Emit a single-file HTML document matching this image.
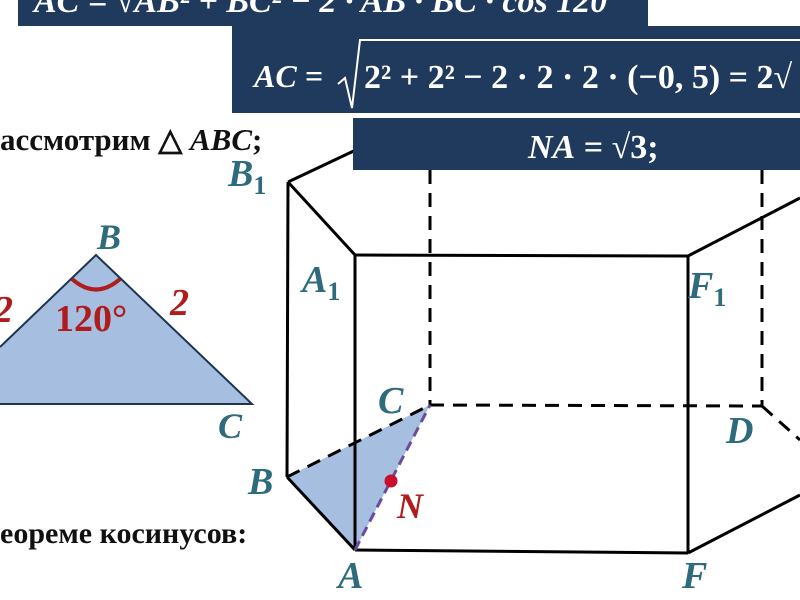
<!DOCTYPE html>
<html><head><meta charset="utf-8"><style>
html,body{margin:0;padding:0;background:#fff;}
svg{display:block}
.lbl{font-family:"Liberation Serif",serif;font-weight:bold;font-style:italic;fill:#2e6b7c}
.red{font-family:"Liberation Serif",serif;font-weight:bold;fill:#b01b1b}
.w{font-family:"Liberation Serif",serif;font-weight:bold;fill:#fff}
.blk{font-family:"Liberation Serif",serif;font-weight:bold;fill:#111}
</style></head><body>
<svg width="800" height="600" viewBox="0 0 800 600" xmlns="http://www.w3.org/2000/svg">
<rect width="800" height="600" fill="#fff"/>
<!-- left triangle -->
<polygon points="96,255 252,404 0,404 0,347" fill="#a6bedf"/>
<polyline points="0,347 96,255 252,404 0,404" fill="none" stroke="#1d3550" stroke-width="2"/>
<path d="M72,279 Q96,300 120,279" fill="none" stroke="#b01b1b" stroke-width="4"/>
<text x="97" y="249" class="lbl" font-size="36">B</text>
<text x="218" y="438" class="lbl" font-size="36">C</text>
<text x="-6" y="322" class="red" font-size="38" font-style="italic">2</text>
<text x="170" y="315" class="red" font-size="38" font-style="italic">2</text>
<text x="55" y="331" class="red" font-size="38">120°</text>
<text x="0" y="150" class="blk" font-size="31">ассмотрим △ <tspan font-style="italic">ABC</tspan>;</text>
<text x="0" y="543" class="blk" font-size="30">еореме косинусов:</text>
<!-- prism -->
<polygon points="287,477 430,405 355,550" fill="#a6bedf"/>
<g stroke="#000" stroke-width="3" fill="none">
<line x1="288" y1="182" x2="287" y2="477"/>
<line x1="355" y1="255" x2="355" y2="550"/>
<line x1="688" y1="256" x2="688" y2="553"/>
<line x1="288" y1="182" x2="355" y2="255"/>
<line x1="355" y1="255" x2="688" y2="256"/>
<line x1="688" y1="256" x2="800" y2="198"/>
<line x1="288" y1="182" x2="360" y2="148"/>
<line x1="287" y1="477" x2="355" y2="550"/>
<line x1="355" y1="550" x2="688" y2="553"/>
<line x1="688" y1="553" x2="800" y2="495"/>
</g>
<g stroke="#000" stroke-width="3" fill="none" stroke-dasharray="14,9">
<line x1="430" y1="170" x2="430" y2="405"/>
<line x1="762" y1="170" x2="762" y2="406"/>
<line x1="430" y1="405" x2="762" y2="406"/>
<line x1="762" y1="406" x2="800" y2="440"/>
<line x1="287" y1="477" x2="430" y2="405"/>
</g>
<line x1="355" y1="550" x2="430" y2="405" stroke="#6a4c9c" stroke-width="3" stroke-dasharray="10,6"/>
<circle cx="391" cy="481" r="6.5" fill="#c8102e"/>
<text x="228" y="186" class="lbl" font-size="38">B<tspan font-size="26" dy="8" font-style="normal">1</tspan></text>
<text x="302" y="292" class="lbl" font-size="38">A<tspan font-size="26" dy="8" font-style="normal">1</tspan></text>
<text x="688" y="298" class="lbl" font-size="38">F<tspan font-size="26" dy="8" font-style="normal">1</tspan></text>
<text x="378" y="413" class="lbl" font-size="38">C</text>
<text x="726" y="443" class="lbl" font-size="38">D</text>
<text x="248" y="494" class="lbl" font-size="38">B</text>
<text x="338" y="588" class="lbl" font-size="38">A</text>
<text x="682" y="588" class="lbl" font-size="38">F</text>
<text x="397" y="518" class="red" font-size="36" font-style="italic">N</text>
<!-- formula boxes -->
<rect x="18" y="0" width="630" height="26" fill="#1f3a5c"/>
<text x="34" y="12" class="w" font-size="34" font-style="italic">AC = √AB² + BC² − 2 · AB · BC · cos 120°</text>
<rect x="232" y="26" width="568" height="87" fill="#1f3a5c"/>
<text x="254" y="87" class="w" font-size="32" font-style="italic">AC =</text>
<polyline points="338,84 345,78 352,108 360,40 800,40" fill="none" stroke="#fff" stroke-width="2"/>
<text x="364" y="88" class="w" font-size="34">2² + 2² − 2 · 2 · 2 · (−0, 5) = 2√</text>
<rect x="353" y="118" width="447" height="52" fill="#1f3a5c"/>
<text x="528" y="158" class="w" font-size="34"><tspan font-style="italic">NA</tspan> = √3;</text>
</svg>
</body></html>
